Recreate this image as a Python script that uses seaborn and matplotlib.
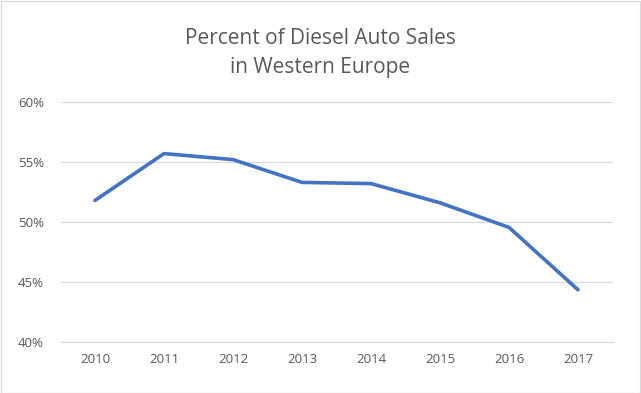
import matplotlib
matplotlib.use("Agg")
import matplotlib.pyplot as plt
import seaborn as sns
import pandas as pd
from matplotlib.ticker import FuncFormatter

years = ["2010", "2011", "2012", "2013", "2014", "2015", "2016", "2017"]
diesel_share = [51.8, 55.7, 55.2, 53.3, 53.2, 51.6, 49.55, 44.35]
title = "Percent of Diesel Auto Sales\nin Western Europe"

sns.set_theme(style="white")
plt.rcParams['font.family'] = ['Open Sans', 'DejaVu Sans']

W, H = 641, 393
fig = plt.figure(figsize=(W / 100, H / 100), dpi=100)
ax = fig.add_axes([60.5 / W, (H - 342) / H, (612.5 - 60.5) / W, 240 / H])

df = pd.DataFrame({"year": years, "share": diesel_share})
sns.lineplot(data=df, x="year", y="share", ax=ax, color="#4472C4", linewidth=2.6,
             solid_capstyle="round", solid_joinstyle="round")

ax.set_ylim(40, 60)
ax.set_xlim(-0.5, len(years) - 0.5)
ax.set_yticks([40, 45, 50, 55, 60])
ax.yaxis.set_major_formatter(FuncFormatter(lambda v, p: f"{v:.0f}%"))
ax.grid(axis="y", color="#D9D9D9", linewidth=0.9)
ax.set_axisbelow(True)
for s in ["top", "right", "left"]:
    ax.spines[s].set_visible(False)
ax.spines["bottom"].set_color("#D9D9D9")
ax.spines["bottom"].set_linewidth(0.9)
ax.tick_params(axis="both", length=0, labelsize=9.5, labelcolor="#595959", pad=8)
ax.tick_params(axis="y", pad=12)
ax.set_xlabel("")
ax.set_ylabel("")

fig.text(0.5, (H - 52.5) / H, title, ha="center", va="center", fontsize=15,
         color="#595959", linespacing=1.5)

border = plt.Rectangle((0.5 / W, 0.5 / H), (W - 1.5) / W, (H - 1.5) / H,
                       transform=fig.transFigure, fill=False, edgecolor="#D9D9D9",
                       linewidth=0.9)
fig.patches.append(border)

fig.savefig("out.png", dpi=100)
